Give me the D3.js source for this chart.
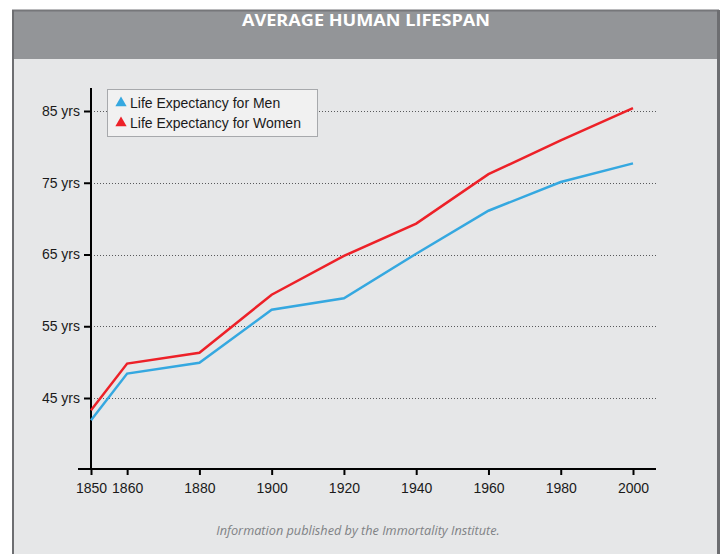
<!DOCTYPE html>
<html>
<head>
<meta charset="utf-8">
<script src="https://cdn.jsdelivr.net/npm/d3@7"></script>
<style>
  body { margin: 0; background: #fff; }
</style>
</head>
<body>
<div id="chart"></div>
<script>
const years = [1850, 1860, 1880, 1900, 1920, 1940, 1960, 1980, 2000];
const men = [41.9, 48.4, 49.9, 57.3, 58.9, 65.1, 71.1, 75.1, 77.7];
const women = [43.3, 49.8, 51.3, 59.4, 64.8, 69.3, 76.2, 80.9, 85.4];
const yTicks = [45, 55, 65, 75, 85];
const xTicks = [1850, 1860, 1880, 1900, 1920, 1940, 1960, 1980, 2000];
const seriesNames = ["Life Expectancy for Men", "Life Expectancy for Women"];

const width = 722, height = 554;

const svg = d3.select("#chart")
  .append("svg")
  .attr("width", width)
  .attr("height", height);

// frame
svg.append("rect")
  .attr("x", 12).attr("y", 10)
  .attr("width", 707).attr("height", 560)
  .attr("fill", "#e6e7e8");
svg.append("rect")
  .attr("x", 12).attr("y", 10)
  .attr("width", 707).attr("height", 49)
  .attr("fill", "#939598");
svg.append("line")
  .attr("x1", 12).attr("x2", 719).attr("y1", 10.5).attr("y2", 10.5)
  .attr("stroke", "#76777a").attr("stroke-width", 2);
svg.append("line")
  .attr("x1", 13).attr("x2", 13).attr("y1", 10).attr("y2", 554)
  .attr("stroke", "#6d6e71").attr("stroke-width", 2);
svg.append("line")
  .attr("x1", 718.5).attr("x2", 718.5).attr("y1", 10).attr("y2", 554)
  .attr("stroke", "#6d6e71").attr("stroke-width", 3);

svg.append("text")
  .attr("x", 366).attr("y", 26)
  .attr("text-anchor", "middle")
  .attr("font-family", "Open Sans, sans-serif")
  .attr("font-weight", "bold")
  .attr("font-size", 16)
  .attr("fill", "#fff")
  .attr("textLength", 248)
  .attr("lengthAdjust", "spacingAndGlyphs")
  .text("AVERAGE HUMAN LIFESPAN");

const x = d3.scaleLinear().domain([1850, 2000]).range([91, 633]);
const y = d3.scaleLinear().domain([45, 85]).range([398, 111]);

// gridlines
svg.append("g")
  .selectAll("line")
  .data(yTicks)
  .join("line")
  .attr("x1", 91).attr("x2", 657)
  .attr("y1", d => Math.round(y(d)) + 0.5)
  .attr("y2", d => Math.round(y(d)) + 0.5)
  .attr("stroke", "#58595b")
  .attr("stroke-width", 1)
  .attr("stroke-dasharray", "1,2");

// axes
const xAxis = svg.append("g")
  .attr("transform", "translate(0,469)")
  .call(d3.axisBottom(x).tickValues(xTicks).tickFormat(d3.format("d")).tickSize(6).tickPadding(8).tickSizeOuter(0));
xAxis.select(".domain").remove();
xAxis.append("line")
  .attr("x1", 78).attr("x2", 656).attr("y1", 0).attr("y2", 0)
  .attr("stroke", "#000").attr("stroke-width", 2);

const yAxis = svg.append("g")
  .attr("transform", "translate(91,0)")
  .call(d3.axisLeft(y).tickValues(yTicks).tickFormat(d => d + " yrs").tickSize(7).tickPadding(4).tickSizeOuter(0));
yAxis.select(".domain").remove();
yAxis.append("line")
  .attr("x1", 0).attr("x2", 0).attr("y1", 88).attr("y2", 470)
  .attr("stroke", "#000").attr("stroke-width", 2);

svg.selectAll(".tick line").attr("stroke", "#000").attr("stroke-width", 2);
svg.selectAll(".tick text")
  .attr("font-family", "Liberation Sans, Arial, sans-serif")
  .attr("font-size", 14)
  .attr("fill", "#1a1a1a");

// lines
const line = d3.line()
  .x((d, i) => x(years[i]))
  .y(d => y(d));

svg.append("path")
  .datum(men)
  .attr("d", line)
  .attr("fill", "none")
  .attr("stroke", "#35a8e0")
  .attr("stroke-width", 2.5);

svg.append("path")
  .datum(women)
  .attr("d", line)
  .attr("fill", "none")
  .attr("stroke", "#ed2128")
  .attr("stroke-width", 2.5);

// legend
const legend = svg.append("g");
legend.append("rect")
  .attr("x", 107.5).attr("y", 89.5)
  .attr("width", 210).attr("height", 47)
  .attr("fill", "#f1f1f1")
  .attr("stroke", "#a7a9ac");

const colors = ["#35a8e0", "#ed2128"];
seriesNames.forEach((name, i) => {
  const cy = 103 + i * 20;
  legend.append("path")
    .attr("d", d3.symbol().type(d3.symbolTriangle).size(55)())
    .attr("transform", `translate(121,${cy})`)
    .attr("fill", colors[i]);
  legend.append("text")
    .attr("x", 130).attr("y", cy + 5)
    .attr("font-family", "Liberation Sans, Arial, sans-serif")
    .attr("font-size", 14)
    .attr("fill", "#1a1a1a")
    .text(name);
});

svg.append("text")
  .attr("x", 358).attr("y", 535)
  .attr("text-anchor", "middle")
  .attr("font-family", "Open Sans, sans-serif")
  .attr("font-style", "italic")
  .attr("font-size", 12.7)
  .attr("fill", "#808285")
  .text("Information published by the Immortality Institute.");
</script>
</body>
</html>
